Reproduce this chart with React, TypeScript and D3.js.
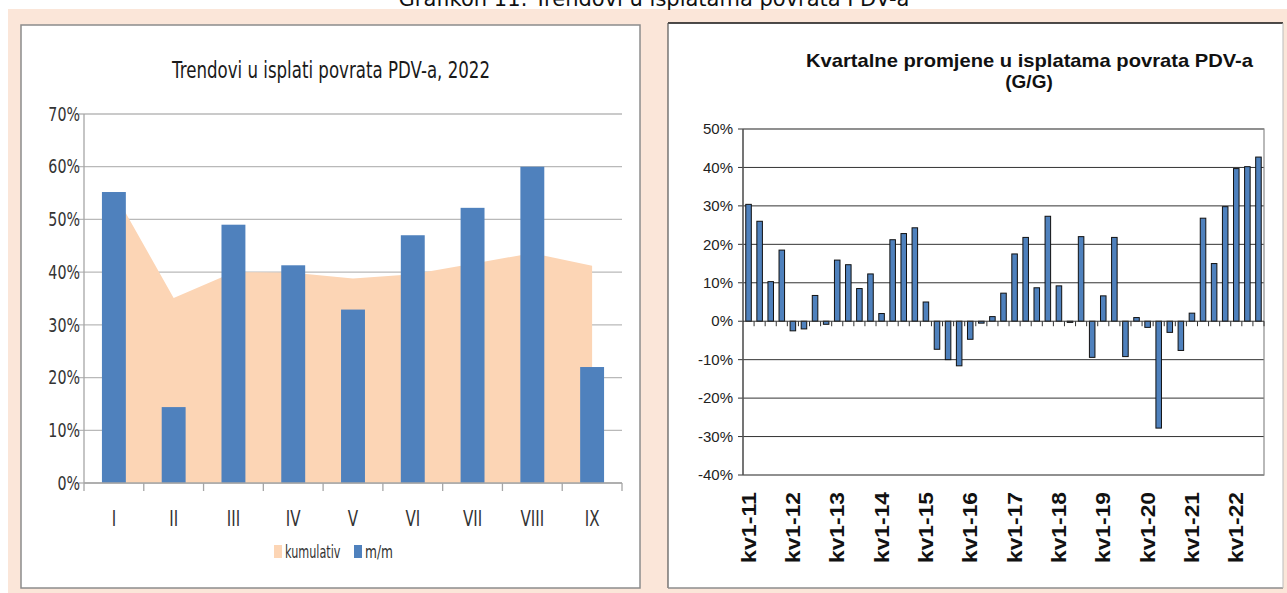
import { scaleBand, scaleLinear, area, curveLinear } from 'd3';

// Left chart: monthly VAT refund trends, 2022
const months = ['I', 'II', 'III', 'IV', 'V', 'VI', 'VII', 'VIII', 'IX'];
const monthlyValues = [55.2, 14.4, 49.0, 41.3, 32.9, 47.0, 52.2, 60.0, 22.0];
const cumulativeValues = [55.2, 35.1, 40.0, 39.9, 38.8, 39.6, 41.6, 43.6, 41.2];
const leftTicks = [0, 10, 20, 30, 40, 50, 60, 70];

// Right chart: quarterly y/y changes, kv1-11 .. kv3-22
const yearLabels = ['11', '12', '13', '14', '15', '16', '17', '18', '19', '20', '21', '22'];
const quarters = yearLabels.flatMap((y) => [1, 2, 3, 4].map((q) => `kv${q}-${y}`)).slice(0, 47);
const yoyValues = [
  30.4, 26.0, 10.3, 18.5, -2.5, -2.0, 6.7, -0.8, 15.9, 14.7,
  8.5, 12.3, 2.0, 21.2, 22.8, 24.3, 5.0, -7.3, -10.0, -11.6,
  -4.7, -0.5, 1.2, 7.3, 17.5, 21.8, 8.7, 27.3, 9.2, -0.3,
  22.0, -9.4, 6.6, 21.8, -9.2, 0.95, -1.6, -27.8, -2.9, -7.6,
  2.1, 26.8, 15.0, 29.8, 39.7, 40.2, 42.7,
];
const rightTicks = [-40, -30, -20, -10, 0, 10, 20, 30, 40, 50];

const BLUE = '#4f81bd';
const PEACH = '#fcd5b5';
const BG = '#fbe6d9';
const SANS = "'DejaVu Sans', sans-serif";
const ARIAL = "'Liberation Sans', Arial, sans-serif";

// Calibri-ish look: regular sans squeezed horizontally
function NarrowText({ x, y, anchor = 'start', size, squeeze = 0.78, children }: {
  x: number; y: number; anchor?: 'start' | 'middle' | 'end'; size: number; squeeze?: number; children: React.ReactNode;
}) {
  return (
    <text
      transform={`translate(${x},${y}) scale(${squeeze},1)`}
      dy="0.35em"
      textAnchor={anchor}
      fontFamily={SANS}
      fontSize={size}
      fill="#333"
    >
      {children}
    </text>
  );
}

function TrendChart() {
  const x = scaleBand<string>().domain(months).range([84, 622]);
  const y = scaleLinear().domain([0, 70]).range([483, 114]);
  const barW = x.bandwidth() * 0.4;
  const center = (m: string) => (x(m) ?? 0) + x.bandwidth() / 2;

  const cumArea = area<number>()
    .x((_, i) => center(months[i]))
    .y0(y(0))
    .y1((d) => y(d))
    .curve(curveLinear);

  return (
    <g>
      <rect x={21} y={25} width={619} height={563} fill="#fff" stroke="#8c8c8c" strokeWidth={1.5} />
      <text x={172} y={78} textLength={318} lengthAdjust="spacingAndGlyphs" fontFamily={SANS} fontSize={23} fill="#1a1a1a">
        Trendovi u isplati povrata PDV-a, 2022
      </text>
      {leftTicks.map((t) => (
        <g key={t}>
          <line x1={79} x2={622} y1={y(t)} y2={y(t)} stroke="#b9b9b9" strokeWidth={1.3} />
          <NarrowText x={80} y={y(t)} anchor="end" size={19} squeeze={0.75}>{t}%</NarrowText>
        </g>
      ))}
      <path d={cumArea(cumulativeValues) ?? ''} fill={PEACH} />
      {months.map((m, i) => (
        <rect
          key={m}
          x={center(m) - barW / 2}
          y={y(monthlyValues[i])}
          width={barW}
          height={y(0) - y(monthlyValues[i])}
          fill={BLUE}
        />
      ))}
      <line x1={84} x2={84} y1={114} y2={483} stroke="#a6a6a6" strokeWidth={1.3} />
      <line x1={84} x2={622} y1={483} y2={483} stroke="#a6a6a6" strokeWidth={1.3} />
      {months.map((m) => (
        <line key={`t${m}`} x1={x(m)} x2={x(m)} y1={483} y2={491} stroke="#a6a6a6" strokeWidth={1.3} />
      ))}
      <line x1={622} x2={622} y1={483} y2={491} stroke="#a6a6a6" strokeWidth={1.3} />
      {months.map((m) => (
        <NarrowText key={`l${m}`} x={center(m)} y={519} anchor="middle" size={21} squeeze={0.72}>{m}</NarrowText>
      ))}
      <rect x={274} y={545} width={8} height={13} fill={PEACH} />
      <NarrowText x={285} y={552} size={17} squeeze={0.66}>kumulativ</NarrowText>
      <rect x={354} y={545} width={8} height={13} fill={BLUE} />
      <NarrowText x={365} y={552} size={17} squeeze={0.72}>m/m</NarrowText>
    </g>
  );
}

function QuarterlyChart() {
  const x = scaleBand<string>().domain(quarters).range([743, 1264]);
  const y = scaleLinear().domain([-40, 50]).range([475, 129]);
  const barW = x.bandwidth() * 0.5;
  const center = (q: string) => (x(q) ?? 0) + x.bandwidth() / 2;

  return (
    <g>
      <rect x={668} y={23} width={615} height={565} fill="#fff" />
      <line x1={668} x2={1283} y1={23} y2={23} stroke="#111" strokeWidth={1.5} />
      <line x1={668} x2={668} y1={23} y2={588} stroke="#555" strokeWidth={1.2} />
      <line x1={668} x2={1283} y1={588} y2={588} stroke="#8c8c8c" strokeWidth={1.5} />
      <line x1={1283} x2={1283} y1={23} y2={588} stroke="#bbb" strokeWidth={1} />
      <text x={806} y={67} textLength={447} lengthAdjust="spacingAndGlyphs" fontFamily={ARIAL} fontWeight="bold" fontSize={19} fill="#111">
        Kvartalne promjene u isplatama povrata PDV-a
      </text>
      <text x={1029} y={88} textAnchor="middle" fontFamily={ARIAL} fontWeight="bold" fontSize={19} fill="#111">
        (G/G)
      </text>
      {rightTicks.map((t) => (
        <g key={t}>
          {t !== 0 && <line x1={743} x2={1264} y1={y(t)} y2={y(t)} stroke="#333" strokeWidth={1} />}
          <line x1={738} x2={743} y1={y(t)} y2={y(t)} stroke="#333" strokeWidth={1} />
          <text x={733} y={y(t)} dy="0.35em" textAnchor="end" fontFamily={ARIAL} fontSize={15} fill="#222">
            {t}%
          </text>
        </g>
      ))}
      <rect x={743} y={129} width={521} height={346} fill="none" stroke="#8a8a8a" strokeWidth={1.2} />
      <line x1={743} x2={743} y1={129} y2={475} stroke="#333" strokeWidth={1} />
      {quarters.map((q, i) => {
        const v = yoyValues[i];
        return (
          <rect
            key={q}
            x={center(q) - barW / 2}
            y={y(Math.max(0, v))}
            width={barW}
            height={Math.abs(y(v) - y(0))}
            fill={BLUE}
            stroke="#111"
            strokeWidth={1}
          />
        );
      })}
      <line x1={743} x2={1264} y1={y(0)} y2={y(0)} stroke="#333" strokeWidth={1} />
      {quarters.map((q) => (
        <line key={`t${q}`} x1={(x(q) ?? 0) + x.bandwidth()} x2={(x(q) ?? 0) + x.bandwidth()} y1={y(0)} y2={y(0) + 5} stroke="#333" strokeWidth={1} />
      ))}
      {quarters.filter((q) => q.startsWith('kv1')).map((q) => (
        <text
          key={`l${q}`}
          transform={`translate(${center(q) + 7},${492}) rotate(-90)`}
          textAnchor="end"
          textLength={71}
          lengthAdjust="spacingAndGlyphs"
          fontFamily={ARIAL}
          fontWeight="bold"
          fontSize={20}
          fill="#111"
        >
          {q}
        </text>
      ))}
    </g>
  );
}

export default function App() {
  return (
    <svg
      width={1287}
      height={593}
      style={{ position: 'absolute', left: 0, top: 0, display: 'block' }}
    >
      <rect x={0} y={0} width={1287} height={593} fill="#fff" />
      <rect x={8} y={9} width={1279} height={584} fill={BG} />
      <text x={654} y={6} textAnchor="middle" fontFamily={SANS} fontSize={21} fill="#111">
        Grafikon 11: Trendovi u isplatama povrata PDV-a
      </text>
      <TrendChart />
      <QuarterlyChart />
    </svg>
  );
}
